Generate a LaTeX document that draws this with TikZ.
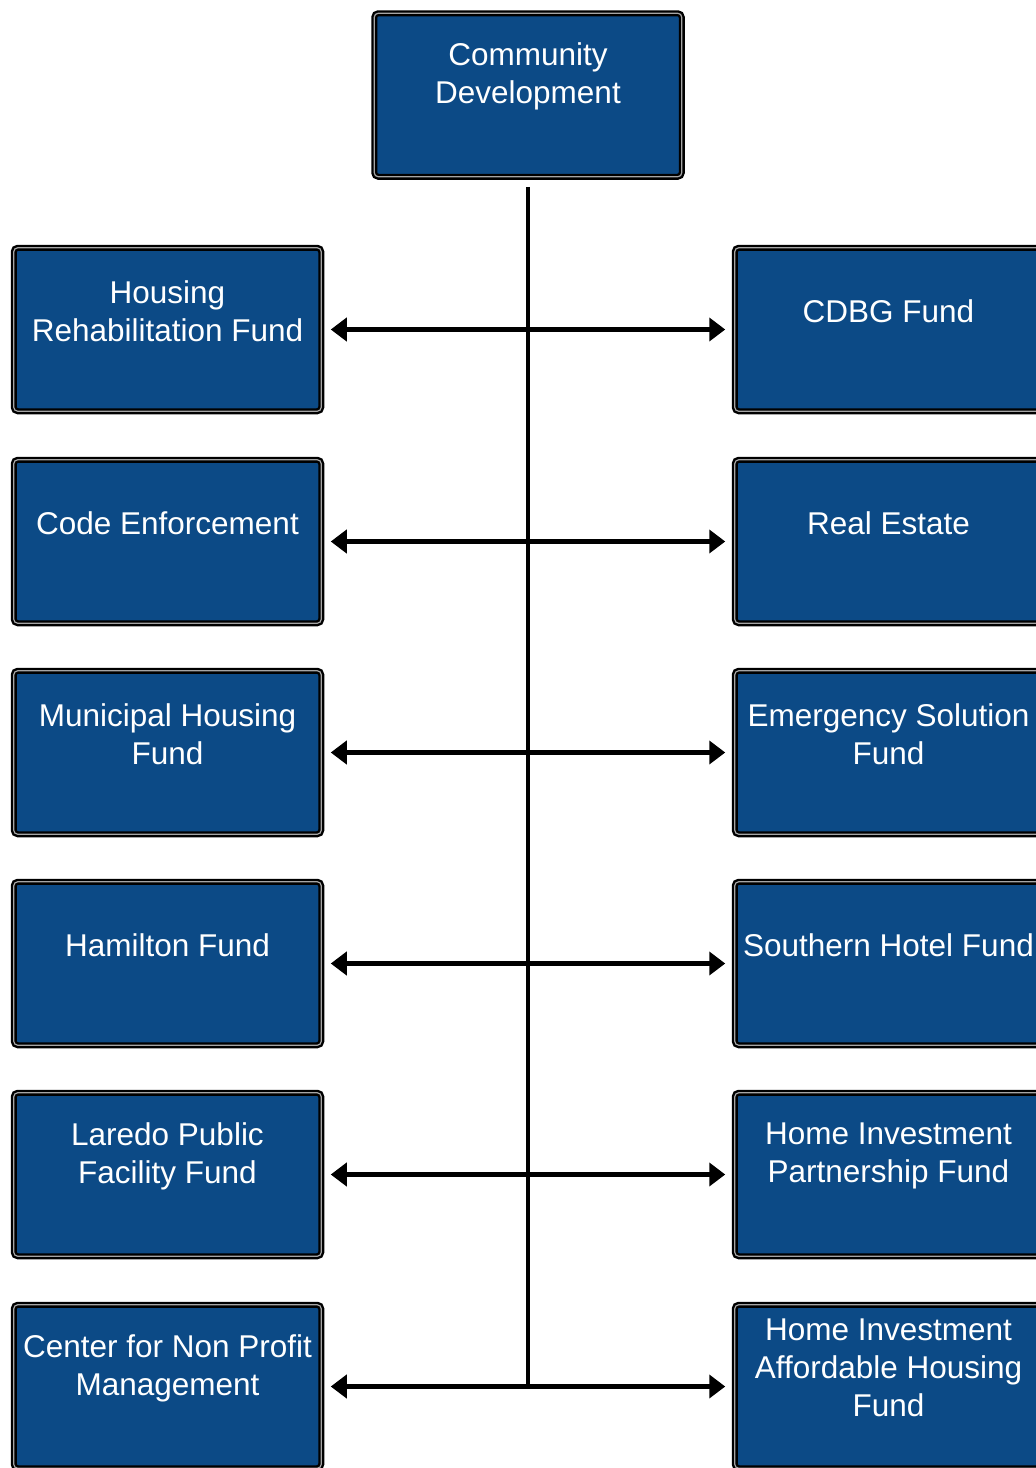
\documentclass[tikz,border=0pt]{standalone}
\usepackage{fontspec}
\setmainfont{Liberation Sans}
\usetikzlibrary{arrows.meta}
\definecolor{cdblue}{RGB}{12,74,134}

\begin{document}
\begin{tikzpicture}[x=1pt,y=-1pt,
    fund/.style={rectangle, rounded corners=4pt, fill=cdblue, draw=black,
        line width=2.4pt, double=gray!70, double distance=1.2pt,
        minimum width=307.5pt, minimum height=163.5pt, inner sep=0pt, outer sep=0pt,
        label={[caption,yshift=18.5pt]center:{#1}}},
    caption/.style={text=white, align=center, font=\fontsize{31.5}{38}\selectfont},
    link/.style={<->, >={Triangle[length=16pt,width=23pt]}, line width=4.2pt,
        shorten <=9.5pt, shorten >=9.5pt},
    trunk/.style={line width=4.8pt, shorten <=10pt}]
    \useasboundingbox (0,0) rectangle (1036,1468);

    % head of the department
    \node[fund={Community\\Development}] (cd) at (528,95) {};

    % left column
    \node[fund={Housing\\Rehabilitation Fund}] (hrf) at (167.5,329.5) {};
    \node[fund={Code Enforcement}] (ce) at (167.5,541.5) {};
    \node[fund={Municipal Housing\\Fund}] (mhf) at (167.5,752.5) {};
    \node[fund={Hamilton Fund}] (hf) at (167.5,963.5) {};
    \node[fund={Laredo Public\\Facility Fund}] (lpff) at (167.5,1174.5) {};
    \node[fund={Center for Non Profit\\Management}] (cnp) at (167.5,1386.5) {};

    % right column (runs off the page edge)
    \node[fund={CDBG Fund}] (cdbg) at (888.5,329.5) {};
    \node[fund={Real Estate}] (re) at (888.5,541.5) {};
    \node[fund={Emergency Solution\\Fund}] (esf) at (888.5,752.5) {};
    \node[fund={Southern Hotel Fund}] (shf) at (888.5,963.5) {};
    \node[fund={Home Investment\\Partnership Fund}] (hipf) at (888.5,1174.5) {};
    \node[fund={Home Investment\\Affordable Housing\\Fund}] (hiahf) at (888.5,1386.5) {};

    % the spine and the cross links
    \coordinate (spineend) at (cd.south |- cnp.east);
    \draw[trunk] (cd.south) -- (spineend);
    \foreach \a/\b in {hrf/cdbg, ce/re, mhf/esf, hf/shf, lpff/hipf, cnp/hiahf}
        \draw[link] (\a) -- (\b);
\end{tikzpicture}
\end{document}
